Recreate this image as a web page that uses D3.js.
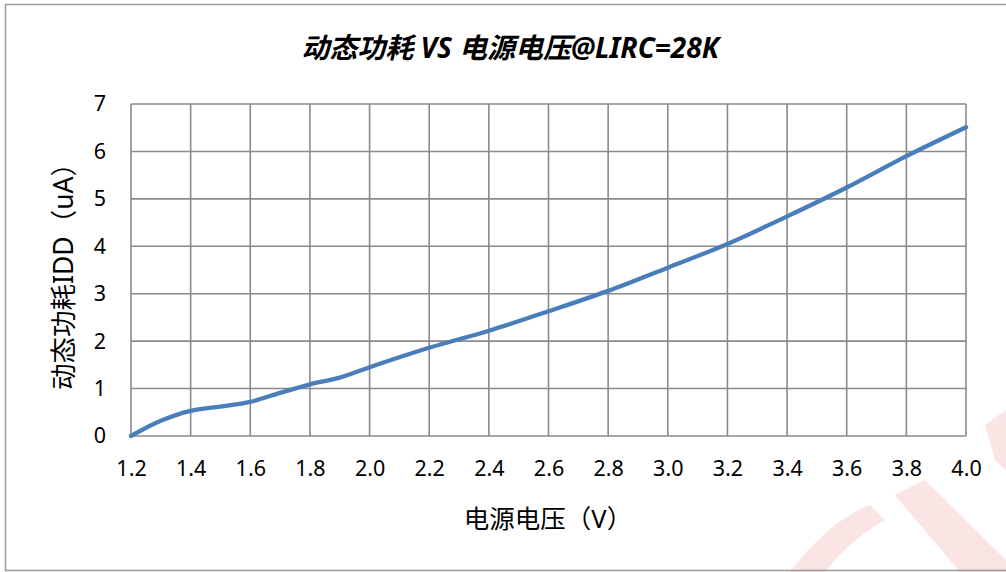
<!DOCTYPE html>
<html><head><meta charset="utf-8">
<script src="https://cdn.jsdelivr.net/npm/d3@7"></script>
<style>html,body{margin:0;padding:0;background:#fff;overflow:hidden}</style>
</head><body>
<svg id="chart" width="1006" height="572"></svg>
<script>
const title = "动态功耗 VS 电源电压@LIRC=28K";
const xTitle = "电源电压（V）";
const yTitle = "动态功耗IDD（uA）";
const voltage = [1.2,1.3,1.4,1.5,1.6,1.7,1.8,1.9,2.0,2.2,2.4,2.6,2.8,3.0,3.2,3.4,3.6,3.8,4.0];
const idd     = [0.0,0.32,0.53,0.62,0.72,0.91,1.09,1.23,1.45,1.86,2.22,2.63,3.06,3.55,4.05,4.63,5.24,5.9,6.51];
const xTicks = [1.2,1.4,1.6,1.8,2.0,2.2,2.4,2.6,2.8,3.0,3.2,3.4,3.6,3.8,4.0];
const yTicks = [0,1,2,3,4,5,6,7];

const svg = d3.select("#chart");
const latin = "'Noto Sans', 'Open Sans', 'Noto Sans CJK SC', sans-serif";
const cjk = "'Noto Sans', 'Noto Sans CJK SC', sans-serif";

// watermark (faint)
const wm = svg.append("g").attr("fill","#f5b5b5").attr("opacity",0.35);
wm.append("path").attr("d","M790,572 Q830,520 870,505 L885,520 Q850,540 825,572 Z");
wm.append("path").attr("d","M895,495 L925,480 L1006,560 L1006,572 L960,572 Z");
wm.append("path").attr("d","M985,425 L1006,410 L1006,470 L995,460 Z");

// outer border
svg.append("rect").attr("x",5.5).attr("y",4.5).attr("width",1010).attr("height",566)
  .attr("fill","none").attr("stroke","#9a9a9a").attr("stroke-width",1.5);

const m = {left:131, right:966, top:104, bottom:436};
const x = d3.scaleLinear().domain([1.2,4.0]).range([m.left,m.right]);
const y = d3.scaleLinear().domain([0,7]).range([m.bottom,m.top]);

// grid
const grid = svg.append("g").attr("stroke","#8a8a8a").attr("stroke-width",1.6);
grid.selectAll(".v").data(xTicks).join("line")
  .attr("x1",d=>x(d)).attr("x2",d=>x(d)).attr("y1",m.top).attr("y2",m.bottom);
grid.selectAll(".h").data(yTicks).join("line")
  .attr("y1",d=>y(d)).attr("y2",d=>y(d)).attr("x1",m.left).attr("x2",m.right);

// axes labels via d3 axes
const xAxis = svg.append("g").attr("transform",`translate(0,${m.bottom})`)
  .call(d3.axisBottom(x).tickValues(xTicks).tickFormat(d3.format(".1f")).tickSize(0).tickPadding(25));
xAxis.select(".domain").remove();
xAxis.selectAll("text").attr("font-family",latin).attr("font-size",21.5).attr("fill","#000");

const yAxis = svg.append("g").attr("transform",`translate(${m.left},0)`)
  .call(d3.axisLeft(y).tickValues(yTicks).tickFormat(d3.format("d")).tickSize(0).tickPadding(25));
yAxis.select(".domain").remove();
yAxis.selectAll("text").attr("font-family",latin).attr("font-size",21.5).attr("fill","#000");

// line
const line = d3.line().x((d,i)=>x(voltage[i])).y(d=>y(d)).curve(d3.curveCatmullRom.alpha(0.5));
svg.append("path").datum(idd).attr("d",line).attr("fill","none")
  .attr("stroke","#4a7ebb").attr("stroke-width",4.3).attr("stroke-linecap","round");

// titles
svg.append("text").attr("x",510).attr("y",47).attr("text-anchor","middle").attr("dominant-baseline","central")
  .attr("font-family",cjk).attr("font-weight","bold").attr("font-style","italic").attr("font-size",28)
  .attr("fill","#000").text(title);
svg.append("text").attr("x",548).attr("y",518).attr("text-anchor","middle").attr("dominant-baseline","central")
  .attr("font-family",cjk).attr("font-size",25.5).attr("fill","#000").text(xTitle);
svg.append("text").attr("transform",`translate(63,270) rotate(-90)`).attr("text-anchor","middle")
  .attr("dominant-baseline","central").attr("font-family",cjk).attr("font-size",26.5).attr("fill","#000").text(yTitle);
</script>
</body></html>
